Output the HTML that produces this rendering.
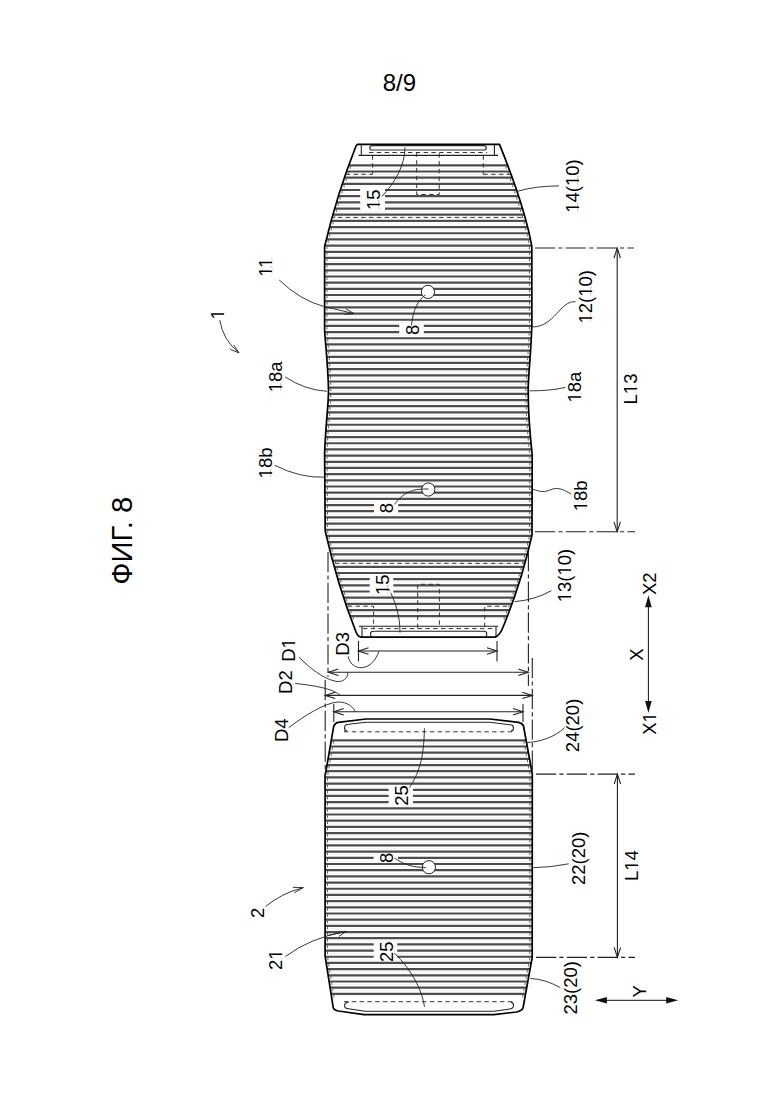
<!DOCTYPE html>
<html><head><meta charset="utf-8"><style>
html,body{margin:0;padding:0;background:#fff;}
svg{display:block;font-family:"Liberation Sans",sans-serif;}
</style></head><body>
<svg width="780" height="1103" viewBox="0 0 780 1103">
<defs>
<clipPath id="ct"><path d="M 357.5 144.4 L 499.5 144.4 Q 525 207.4 531.8 246.5 L 531.9 325 C 530.6 360 528.2 375 528.2 390 C 528.2 410 530 435 532.2 455 L 532 535 Q 521.6 581.7 503.5 626 Q 500 635.5 495 637.2 L 361.5 637.2 Q 358 637 356 632 Q 337.5 585 325.2 531 L 324.6 454 C 325.5 425 328.6 405 328.5 390 C 328 365 325.5 345 324.6 330 L 324.6 246.5 Q 337 194 356 146 Z"/></clipPath>
<clipPath id="cl"><path d="M 366 719 L 489.9 719 L 518.6 722.3 Q 522.5 723.2 523.5 726 L 532.3 774 L 532.2 957.4 L 523 1008 Q 522 1010.8 516.5 1012 L 494 1014.6 L 364 1014.6 L 338.3 1011 Q 334 1010 333.2 1007.4 L 325.1 956 L 325.1 776 L 333.7 726.4 Q 335 722.8 338.3 722.3 Z"/></clipPath>
</defs>
<g clip-path="url(#ct)" stroke-width="0.8" stroke="#eeeeee">
<line x1="320" y1="168.40" x2="540" y2="168.40"/>
<line x1="320" y1="174.58" x2="540" y2="174.58"/>
<line x1="320" y1="180.75" x2="540" y2="180.75"/>
<line x1="320" y1="186.93" x2="540" y2="186.93"/>
<line x1="320" y1="193.11" x2="540" y2="193.11"/>
<line x1="320" y1="199.28" x2="540" y2="199.28"/>
<line x1="320" y1="205.46" x2="540" y2="205.46"/>
<line x1="320" y1="211.64" x2="540" y2="211.64"/>
<line x1="320" y1="217.82" x2="540" y2="217.82"/>
<line x1="320" y1="223.99" x2="540" y2="223.99"/>
<line x1="320" y1="230.17" x2="540" y2="230.17"/>
<line x1="320" y1="236.35" x2="540" y2="236.35"/>
<line x1="320" y1="242.52" x2="540" y2="242.52"/>
<line x1="320" y1="248.70" x2="540" y2="248.70"/>
<line x1="320" y1="254.88" x2="540" y2="254.88"/>
<line x1="320" y1="261.06" x2="540" y2="261.06"/>
<line x1="320" y1="267.23" x2="540" y2="267.23"/>
<line x1="320" y1="273.41" x2="540" y2="273.41"/>
<line x1="320" y1="279.59" x2="540" y2="279.59"/>
<line x1="320" y1="285.76" x2="540" y2="285.76"/>
<line x1="320" y1="291.94" x2="540" y2="291.94"/>
<line x1="320" y1="298.12" x2="540" y2="298.12"/>
<line x1="320" y1="304.29" x2="540" y2="304.29"/>
<line x1="320" y1="310.47" x2="540" y2="310.47"/>
<line x1="320" y1="316.65" x2="540" y2="316.65"/>
<line x1="320" y1="322.83" x2="540" y2="322.83"/>
<line x1="320" y1="329.00" x2="540" y2="329.00"/>
<line x1="320" y1="335.18" x2="540" y2="335.18"/>
<line x1="320" y1="341.36" x2="540" y2="341.36"/>
<line x1="320" y1="347.53" x2="540" y2="347.53"/>
<line x1="320" y1="353.71" x2="540" y2="353.71"/>
<line x1="320" y1="359.89" x2="540" y2="359.89"/>
<line x1="320" y1="366.06" x2="540" y2="366.06"/>
<line x1="320" y1="372.24" x2="540" y2="372.24"/>
<line x1="320" y1="378.42" x2="540" y2="378.42"/>
<line x1="320" y1="384.60" x2="540" y2="384.60"/>
<line x1="320" y1="390.77" x2="540" y2="390.77"/>
<line x1="320" y1="396.95" x2="540" y2="396.95"/>
<line x1="320" y1="403.13" x2="540" y2="403.13"/>
<line x1="320" y1="409.30" x2="540" y2="409.30"/>
<line x1="320" y1="415.48" x2="540" y2="415.48"/>
<line x1="320" y1="421.66" x2="540" y2="421.66"/>
<line x1="320" y1="427.83" x2="540" y2="427.83"/>
<line x1="320" y1="434.01" x2="540" y2="434.01"/>
<line x1="320" y1="440.19" x2="540" y2="440.19"/>
<line x1="320" y1="446.37" x2="540" y2="446.37"/>
<line x1="320" y1="452.54" x2="540" y2="452.54"/>
<line x1="320" y1="458.72" x2="540" y2="458.72"/>
<line x1="320" y1="464.90" x2="540" y2="464.90"/>
<line x1="320" y1="471.07" x2="540" y2="471.07"/>
<line x1="320" y1="477.25" x2="540" y2="477.25"/>
<line x1="320" y1="483.43" x2="540" y2="483.43"/>
<line x1="320" y1="489.60" x2="540" y2="489.60"/>
<line x1="320" y1="495.78" x2="540" y2="495.78"/>
<line x1="320" y1="501.96" x2="540" y2="501.96"/>
<line x1="320" y1="508.13" x2="540" y2="508.13"/>
<line x1="320" y1="514.31" x2="540" y2="514.31"/>
<line x1="320" y1="520.49" x2="540" y2="520.49"/>
<line x1="320" y1="526.67" x2="540" y2="526.67"/>
<line x1="320" y1="532.84" x2="540" y2="532.84"/>
<line x1="320" y1="539.02" x2="540" y2="539.02"/>
<line x1="320" y1="545.20" x2="540" y2="545.20"/>
<line x1="320" y1="551.37" x2="540" y2="551.37"/>
<line x1="320" y1="557.55" x2="540" y2="557.55"/>
<line x1="320" y1="563.73" x2="540" y2="563.73"/>
<line x1="320" y1="569.91" x2="540" y2="569.91"/>
<line x1="320" y1="576.08" x2="540" y2="576.08"/>
<line x1="320" y1="582.26" x2="540" y2="582.26"/>
<line x1="320" y1="588.44" x2="540" y2="588.44"/>
<line x1="320" y1="594.61" x2="540" y2="594.61"/>
<line x1="320" y1="600.79" x2="540" y2="600.79"/>
<line x1="320" y1="606.97" x2="540" y2="606.97"/>
<line x1="320" y1="613.14" x2="540" y2="613.14"/>
<line x1="320" y1="619.32" x2="540" y2="619.32"/>
</g>
<g clip-path="url(#ct)" stroke-width="2.2" stroke="#4d4d4d">
<line x1="320" y1="165.30" x2="540" y2="165.30"/>
<line x1="320" y1="171.48" x2="540" y2="171.48"/>
<line x1="320" y1="177.65" x2="540" y2="177.65"/>
<line x1="320" y1="183.83" x2="540" y2="183.83"/>
<line x1="320" y1="190.01" x2="540" y2="190.01"/>
<line x1="320" y1="196.19" x2="540" y2="196.19"/>
<line x1="320" y1="202.36" x2="540" y2="202.36"/>
<line x1="320" y1="208.54" x2="540" y2="208.54"/>
<line x1="320" y1="214.72" x2="540" y2="214.72"/>
<line x1="320" y1="220.89" x2="540" y2="220.89"/>
<line x1="320" y1="227.07" x2="540" y2="227.07"/>
<line x1="320" y1="233.25" x2="540" y2="233.25"/>
<line x1="320" y1="239.42" x2="540" y2="239.42"/>
<line x1="320" y1="245.60" x2="540" y2="245.60"/>
<line x1="320" y1="251.78" x2="540" y2="251.78"/>
<line x1="320" y1="257.96" x2="540" y2="257.96"/>
<line x1="320" y1="264.13" x2="540" y2="264.13"/>
<line x1="320" y1="270.31" x2="540" y2="270.31"/>
<line x1="320" y1="276.49" x2="540" y2="276.49"/>
<line x1="320" y1="282.66" x2="540" y2="282.66"/>
<line x1="320" y1="288.84" x2="540" y2="288.84"/>
<line x1="320" y1="295.02" x2="540" y2="295.02"/>
<line x1="320" y1="301.19" x2="540" y2="301.19"/>
<line x1="320" y1="307.37" x2="540" y2="307.37"/>
<line x1="320" y1="313.55" x2="540" y2="313.55"/>
<line x1="320" y1="319.73" x2="540" y2="319.73"/>
<line x1="320" y1="325.90" x2="540" y2="325.90"/>
<line x1="320" y1="332.08" x2="540" y2="332.08"/>
<line x1="320" y1="338.26" x2="540" y2="338.26"/>
<line x1="320" y1="344.43" x2="540" y2="344.43"/>
<line x1="320" y1="350.61" x2="540" y2="350.61"/>
<line x1="320" y1="356.79" x2="540" y2="356.79"/>
<line x1="320" y1="362.96" x2="540" y2="362.96"/>
<line x1="320" y1="369.14" x2="540" y2="369.14"/>
<line x1="320" y1="375.32" x2="540" y2="375.32"/>
<line x1="320" y1="381.50" x2="540" y2="381.50"/>
<line x1="320" y1="387.67" x2="540" y2="387.67"/>
<line x1="320" y1="393.85" x2="540" y2="393.85"/>
<line x1="320" y1="400.03" x2="540" y2="400.03"/>
<line x1="320" y1="406.20" x2="540" y2="406.20"/>
<line x1="320" y1="412.38" x2="540" y2="412.38"/>
<line x1="320" y1="418.56" x2="540" y2="418.56"/>
<line x1="320" y1="424.73" x2="540" y2="424.73"/>
<line x1="320" y1="430.91" x2="540" y2="430.91"/>
<line x1="320" y1="437.09" x2="540" y2="437.09"/>
<line x1="320" y1="443.26" x2="540" y2="443.26"/>
<line x1="320" y1="449.44" x2="540" y2="449.44"/>
<line x1="320" y1="455.62" x2="540" y2="455.62"/>
<line x1="320" y1="461.80" x2="540" y2="461.80"/>
<line x1="320" y1="467.97" x2="540" y2="467.97"/>
<line x1="320" y1="474.15" x2="540" y2="474.15"/>
<line x1="320" y1="480.33" x2="540" y2="480.33"/>
<line x1="320" y1="486.50" x2="540" y2="486.50"/>
<line x1="320" y1="492.68" x2="540" y2="492.68"/>
<line x1="320" y1="498.86" x2="540" y2="498.86"/>
<line x1="320" y1="505.03" x2="540" y2="505.03"/>
<line x1="320" y1="511.21" x2="540" y2="511.21"/>
<line x1="320" y1="517.39" x2="540" y2="517.39"/>
<line x1="320" y1="523.57" x2="540" y2="523.57"/>
<line x1="320" y1="529.74" x2="540" y2="529.74"/>
<line x1="320" y1="535.92" x2="540" y2="535.92"/>
<line x1="320" y1="542.10" x2="540" y2="542.10"/>
<line x1="320" y1="548.27" x2="540" y2="548.27"/>
<line x1="320" y1="554.45" x2="540" y2="554.45"/>
<line x1="320" y1="560.63" x2="540" y2="560.63"/>
<line x1="320" y1="566.81" x2="540" y2="566.81"/>
<line x1="320" y1="572.98" x2="540" y2="572.98"/>
<line x1="320" y1="579.16" x2="540" y2="579.16"/>
<line x1="320" y1="585.34" x2="540" y2="585.34"/>
<line x1="320" y1="591.51" x2="540" y2="591.51"/>
<line x1="320" y1="597.69" x2="540" y2="597.69"/>
<line x1="320" y1="603.87" x2="540" y2="603.87"/>
<line x1="320" y1="610.04" x2="540" y2="610.04"/>
<line x1="320" y1="616.22" x2="540" y2="616.22"/>
</g>
<g clip-path="url(#cl)" stroke-width="0.8" stroke="#eeeeee">
<line x1="320" y1="743.40" x2="540" y2="743.40"/>
<line x1="320" y1="749.58" x2="540" y2="749.58"/>
<line x1="320" y1="755.77" x2="540" y2="755.77"/>
<line x1="320" y1="761.95" x2="540" y2="761.95"/>
<line x1="320" y1="768.14" x2="540" y2="768.14"/>
<line x1="320" y1="774.32" x2="540" y2="774.32"/>
<line x1="320" y1="780.51" x2="540" y2="780.51"/>
<line x1="320" y1="786.69" x2="540" y2="786.69"/>
<line x1="320" y1="792.88" x2="540" y2="792.88"/>
<line x1="320" y1="799.06" x2="540" y2="799.06"/>
<line x1="320" y1="805.25" x2="540" y2="805.25"/>
<line x1="320" y1="811.43" x2="540" y2="811.43"/>
<line x1="320" y1="817.62" x2="540" y2="817.62"/>
<line x1="320" y1="823.80" x2="540" y2="823.80"/>
<line x1="320" y1="829.99" x2="540" y2="829.99"/>
<line x1="320" y1="836.17" x2="540" y2="836.17"/>
<line x1="320" y1="842.36" x2="540" y2="842.36"/>
<line x1="320" y1="848.54" x2="540" y2="848.54"/>
<line x1="320" y1="854.73" x2="540" y2="854.73"/>
<line x1="320" y1="860.91" x2="540" y2="860.91"/>
<line x1="320" y1="867.10" x2="540" y2="867.10"/>
<line x1="320" y1="873.28" x2="540" y2="873.28"/>
<line x1="320" y1="879.47" x2="540" y2="879.47"/>
<line x1="320" y1="885.65" x2="540" y2="885.65"/>
<line x1="320" y1="891.84" x2="540" y2="891.84"/>
<line x1="320" y1="898.02" x2="540" y2="898.02"/>
<line x1="320" y1="904.21" x2="540" y2="904.21"/>
<line x1="320" y1="910.39" x2="540" y2="910.39"/>
<line x1="320" y1="916.58" x2="540" y2="916.58"/>
<line x1="320" y1="922.76" x2="540" y2="922.76"/>
<line x1="320" y1="928.95" x2="540" y2="928.95"/>
<line x1="320" y1="935.13" x2="540" y2="935.13"/>
<line x1="320" y1="941.32" x2="540" y2="941.32"/>
<line x1="320" y1="947.50" x2="540" y2="947.50"/>
<line x1="320" y1="953.69" x2="540" y2="953.69"/>
<line x1="320" y1="959.88" x2="540" y2="959.88"/>
<line x1="320" y1="966.06" x2="540" y2="966.06"/>
<line x1="320" y1="972.25" x2="540" y2="972.25"/>
<line x1="320" y1="978.43" x2="540" y2="978.43"/>
<line x1="320" y1="984.61" x2="540" y2="984.61"/>
<line x1="320" y1="990.80" x2="540" y2="990.80"/>
<line x1="320" y1="996.99" x2="540" y2="996.99"/>
</g>
<g clip-path="url(#cl)" stroke-width="2.2" stroke="#4d4d4d">
<line x1="320" y1="740.30" x2="540" y2="740.30"/>
<line x1="320" y1="746.48" x2="540" y2="746.48"/>
<line x1="320" y1="752.67" x2="540" y2="752.67"/>
<line x1="320" y1="758.85" x2="540" y2="758.85"/>
<line x1="320" y1="765.04" x2="540" y2="765.04"/>
<line x1="320" y1="771.22" x2="540" y2="771.22"/>
<line x1="320" y1="777.41" x2="540" y2="777.41"/>
<line x1="320" y1="783.59" x2="540" y2="783.59"/>
<line x1="320" y1="789.78" x2="540" y2="789.78"/>
<line x1="320" y1="795.96" x2="540" y2="795.96"/>
<line x1="320" y1="802.15" x2="540" y2="802.15"/>
<line x1="320" y1="808.33" x2="540" y2="808.33"/>
<line x1="320" y1="814.52" x2="540" y2="814.52"/>
<line x1="320" y1="820.70" x2="540" y2="820.70"/>
<line x1="320" y1="826.89" x2="540" y2="826.89"/>
<line x1="320" y1="833.07" x2="540" y2="833.07"/>
<line x1="320" y1="839.26" x2="540" y2="839.26"/>
<line x1="320" y1="845.44" x2="540" y2="845.44"/>
<line x1="320" y1="851.63" x2="540" y2="851.63"/>
<line x1="320" y1="857.81" x2="540" y2="857.81"/>
<line x1="320" y1="864.00" x2="540" y2="864.00"/>
<line x1="320" y1="870.18" x2="540" y2="870.18"/>
<line x1="320" y1="876.37" x2="540" y2="876.37"/>
<line x1="320" y1="882.55" x2="540" y2="882.55"/>
<line x1="320" y1="888.74" x2="540" y2="888.74"/>
<line x1="320" y1="894.92" x2="540" y2="894.92"/>
<line x1="320" y1="901.11" x2="540" y2="901.11"/>
<line x1="320" y1="907.29" x2="540" y2="907.29"/>
<line x1="320" y1="913.48" x2="540" y2="913.48"/>
<line x1="320" y1="919.66" x2="540" y2="919.66"/>
<line x1="320" y1="925.85" x2="540" y2="925.85"/>
<line x1="320" y1="932.03" x2="540" y2="932.03"/>
<line x1="320" y1="938.22" x2="540" y2="938.22"/>
<line x1="320" y1="944.40" x2="540" y2="944.40"/>
<line x1="320" y1="950.59" x2="540" y2="950.59"/>
<line x1="320" y1="956.77" x2="540" y2="956.77"/>
<line x1="320" y1="962.96" x2="540" y2="962.96"/>
<line x1="320" y1="969.14" x2="540" y2="969.14"/>
<line x1="320" y1="975.33" x2="540" y2="975.33"/>
<line x1="320" y1="981.51" x2="540" y2="981.51"/>
<line x1="320" y1="987.70" x2="540" y2="987.70"/>
<line x1="320" y1="993.88" x2="540" y2="993.88"/>
</g>
<g clip-path="url(#ct)" fill="#fff"><rect x="320" y="140" width="220" height="21.5"/><rect x="320" y="619" width="220" height="20"/></g>
<g clip-path="url(#cl)" fill="#fff"><rect x="320" y="715" width="220" height="21.5"/><rect x="320" y="997" width="220" height="20"/></g>
<g stroke="#333" stroke-width="1" fill="none" stroke-dasharray="4.4 3.4" clip-path="url(#ct)">
<line x1="369" y1="152.5" x2="487" y2="152.5"/>
<line x1="338" y1="174.3" x2="372.6" y2="174.3"/><line x1="483.3" y1="174.3" x2="522" y2="174.3"/>
<line x1="372.6" y1="155.4" x2="372.6" y2="174.3"/><line x1="483.3" y1="155.4" x2="483.3" y2="174.3"/>
<polyline points="416.7,152.4 416.7,194.5 439.2,194.5 439.2,152.4"/>
<line x1="330" y1="217.4" x2="528" y2="217.4"/>
<line x1="335" y1="563.3" x2="524" y2="563.3"/>
<polyline points="340,606.2 373.6,606.2 373.6,628"/><polyline points="515,606.2 484.7,606.2 484.7,628"/>
<polyline points="417.7,628 417.7,584.3 439.4,584.3 439.4,628"/>
<line x1="363" y1="628.6" x2="495" y2="628.6"/>
</g>
<g stroke="#333" stroke-width="1" fill="none" stroke-dasharray="4.4 3.4" clip-path="url(#cl)">
<line x1="344" y1="731.8" x2="514" y2="731.8"/>
<line x1="344" y1="1001.7" x2="514" y2="1001.7"/>
</g>
<g stroke="#222" stroke-width="1.1" fill="none">
<polyline points="358.5,155.4 498,155.4"/><line x1="361.3" y1="144" x2="361.3" y2="155.4"/><line x1="494.4" y1="144" x2="494.4" y2="155.4"/>
<rect x="369.8" y="145.6" width="116.4" height="4.4" rx="2.2" stroke="#333" stroke-width="1.2"/>
<polyline points="359,626.2 498,626.2"/><line x1="362" y1="626.2" x2="362" y2="637"/><line x1="496" y1="626.2" x2="496" y2="637"/>
<path d="M 371.5 636.5 Q 370.5 636 370.5 634 Q 370.5 631.3 373.5 631.3 L 484 631.3 Q 486.8 631.3 486.8 634 Q 486.8 636 486 636.5"/>
<path d="M 347 731 Q 344.5 731 344.5 728 Q 344.5 724.3 348.6 724.3 L 366 722.3 L 489.9 722.3 L 510.4 724.8 Q 513.5 725 513.5 728 Q 513.5 731 511 731"/>
<path d="M 348.5 1002.3 Q 344.6 1002.5 344.6 1005.5 Q 344.6 1008.7 348.6 1008.7 L 365 1011.3 L 494 1011.3 L 510 1009 Q 513.5 1008.5 513.5 1005.5 Q 513.5 1002.5 511 1002.3"/>
</g>
<path d="M 350.37 166.10 V 168.70 M 506.05 166.10 V 168.70 M 348.19 172.28 V 174.88 M 508.34 172.28 V 174.88 M 346.08 178.45 V 181.05 M 510.58 178.45 V 181.05 M 344.02 184.63 V 187.23 M 512.75 184.63 V 187.23 M 342.03 190.81 V 193.41 M 514.85 190.81 V 193.41 M 340.10 196.99 V 199.59 M 516.89 196.99 V 199.59 M 338.23 203.16 V 205.76 M 518.84 203.16 V 205.76 M 336.42 209.34 V 211.94 M 520.72 209.34 V 211.94 M 334.67 215.52 V 218.12 M 522.49 215.52 V 218.12 M 332.97 221.69 V 224.29 M 524.17 221.69 V 224.29 M 331.33 227.87 V 230.47 M 525.73 227.87 V 230.47 M 329.75 234.05 V 236.65 M 527.17 234.05 V 236.65 M 328.22 240.22 V 242.82 M 528.46 240.22 V 242.82 M 327.00 246.40 V 249.00 M 529.40 246.40 V 249.00 M 327.00 252.58 V 255.18 M 529.41 252.58 V 255.18 M 327.00 258.76 V 261.36 M 529.42 258.76 V 261.36 M 327.00 264.93 V 267.53 M 529.42 264.93 V 267.53 M 327.00 271.11 V 273.71 M 529.43 271.11 V 273.71 M 327.00 277.29 V 279.89 M 529.44 277.29 V 279.89 M 327.00 283.46 V 286.06 M 529.45 283.46 V 286.06 M 327.00 289.64 V 292.24 M 529.46 289.64 V 292.24 M 327.00 295.82 V 298.42 M 529.46 295.82 V 298.42 M 327.00 301.99 V 304.59 M 529.47 301.99 V 304.59 M 327.00 308.17 V 310.77 M 529.48 308.17 V 310.77 M 327.00 314.35 V 316.95 M 529.49 314.35 V 316.95 M 327.00 320.53 V 323.12 M 529.50 320.53 V 323.12 M 327.00 326.70 V 329.30 M 529.39 326.70 V 329.30 M 327.27 332.88 V 335.48 M 529.12 332.88 V 335.48 M 327.76 339.06 V 341.66 M 528.81 339.06 V 341.66 M 328.28 345.23 V 347.83 M 528.46 345.23 V 347.83 M 328.80 351.41 V 354.01 M 528.06 351.41 V 354.01 M 329.30 357.59 V 360.19 M 527.63 357.59 V 360.19 M 329.75 363.76 V 366.36 M 527.17 363.76 V 366.36 M 330.14 369.94 V 372.54 M 526.70 369.94 V 372.54 M 330.47 376.12 V 378.72 M 526.27 376.12 V 378.72 M 330.72 382.30 V 384.89 M 525.94 382.30 V 384.89 M 330.89 388.47 V 391.07 M 525.80 388.47 V 391.07 M 330.80 394.65 V 397.25 M 525.85 394.65 V 397.25 M 330.47 400.83 V 403.43 M 525.99 400.83 V 403.43 M 330.03 407.00 V 409.60 M 526.21 407.00 V 409.60 M 329.52 413.18 V 415.78 M 526.50 413.18 V 415.78 M 329.01 419.36 V 421.96 M 526.85 419.36 V 421.96 M 328.52 425.53 V 428.13 M 527.26 425.53 V 428.13 M 328.07 431.71 V 434.31 M 527.72 431.71 V 434.31 M 327.67 437.89 V 440.49 M 528.24 437.89 V 440.49 M 327.35 444.06 V 446.66 M 528.80 444.06 V 446.66 M 327.09 450.24 V 452.84 M 529.42 450.24 V 452.84 M 327.03 456.42 V 459.02 M 529.79 456.42 V 459.02 M 327.08 462.60 V 465.20 M 529.78 462.60 V 465.20 M 327.12 468.77 V 471.37 M 529.76 468.77 V 471.37 M 327.17 474.95 V 477.55 M 529.75 474.95 V 477.55 M 327.22 481.13 V 483.73 M 529.73 481.13 V 483.73 M 327.27 487.30 V 489.90 M 529.72 487.30 V 489.90 M 327.32 493.48 V 496.08 M 529.70 493.48 V 496.08 M 327.37 499.66 V 502.26 M 529.69 499.66 V 502.26 M 327.41 505.83 V 508.43 M 529.67 505.83 V 508.43 M 327.46 512.01 V 514.61 M 529.65 512.01 V 514.61 M 327.51 518.19 V 520.79 M 529.64 518.19 V 520.79 M 327.56 524.37 V 526.97 M 529.62 524.37 V 526.97 M 327.77 530.54 V 533.14 M 529.61 530.54 V 533.14 M 329.21 536.72 V 539.32 M 528.94 536.72 V 539.32 M 330.70 542.90 V 545.50 M 527.50 542.90 V 545.50 M 332.24 549.07 V 551.67 M 525.98 549.07 V 551.67 M 333.84 555.25 V 557.85 M 524.38 555.25 V 557.85 M 335.50 561.43 V 564.03 M 522.72 561.43 V 564.03 M 337.21 567.61 V 570.21 M 520.97 567.61 V 570.21 M 338.98 573.78 V 576.38 M 519.15 573.78 V 576.38 M 340.82 579.96 V 582.56 M 517.26 579.96 V 582.56 M 342.71 586.14 V 588.74 M 515.28 586.14 V 588.74 M 344.67 592.31 V 594.91 M 513.23 592.31 V 594.91 M 346.69 598.49 V 601.09 M 511.10 598.49 V 601.09 M 348.78 604.67 V 607.27 M 508.88 604.67 V 607.27 M 350.94 610.84 V 613.44 M 506.59 610.84 V 613.44 M 353.17 617.02 V 619.62 M 504.21 617.02 V 619.62 M 333.34 741.10 V 743.70 M 524.09 741.10 V 743.70 M 332.27 747.28 V 749.88 M 525.22 747.28 V 749.88 M 331.20 753.47 V 756.07 M 526.36 753.47 V 756.07 M 330.13 759.65 V 762.25 M 527.49 759.65 V 762.25 M 329.05 765.84 V 768.44 M 528.62 765.84 V 768.44 M 327.98 772.02 V 774.62 M 529.76 772.02 V 774.62 M 327.50 778.21 V 780.81 M 529.90 778.21 V 780.81 M 327.50 784.39 V 786.99 M 529.89 784.39 V 786.99 M 327.50 790.58 V 793.18 M 529.89 790.58 V 793.18 M 327.50 796.76 V 799.36 M 529.89 796.76 V 799.36 M 327.50 802.95 V 805.55 M 529.88 802.95 V 805.55 M 327.50 809.13 V 811.73 M 529.88 809.13 V 811.73 M 327.50 815.32 V 817.92 M 529.88 815.32 V 817.92 M 327.50 821.50 V 824.10 M 529.87 821.50 V 824.10 M 327.50 827.69 V 830.29 M 529.87 827.69 V 830.29 M 327.50 833.87 V 836.47 M 529.87 833.87 V 836.47 M 327.50 840.06 V 842.66 M 529.86 840.06 V 842.66 M 327.50 846.24 V 848.84 M 529.86 846.24 V 848.84 M 327.50 852.43 V 855.03 M 529.86 852.43 V 855.03 M 327.50 858.61 V 861.21 M 529.85 858.61 V 861.21 M 327.50 864.80 V 867.40 M 529.85 864.80 V 867.40 M 327.50 870.98 V 873.58 M 529.85 870.98 V 873.58 M 327.50 877.17 V 879.77 M 529.84 877.17 V 879.77 M 327.50 883.35 V 885.95 M 529.84 883.35 V 885.95 M 327.50 889.54 V 892.14 M 529.84 889.54 V 892.14 M 327.50 895.72 V 898.32 M 529.83 895.72 V 898.32 M 327.50 901.91 V 904.51 M 529.83 901.91 V 904.51 M 327.50 908.09 V 910.69 M 529.83 908.09 V 910.69 M 327.50 914.28 V 916.88 M 529.82 914.28 V 916.88 M 327.50 920.46 V 923.06 M 529.82 920.46 V 923.06 M 327.50 926.65 V 929.25 M 529.82 926.65 V 929.25 M 327.50 932.83 V 935.43 M 529.81 932.83 V 935.43 M 327.50 939.02 V 941.62 M 529.81 939.02 V 941.62 M 327.50 945.20 V 947.80 M 529.81 945.20 V 947.80 M 327.50 951.39 V 953.99 M 529.80 951.39 V 953.99 M 327.94 957.57 V 960.17 M 529.55 957.57 V 960.17 M 328.91 963.76 V 966.36 M 528.43 963.76 V 966.36 M 329.89 969.94 V 972.54 M 527.30 969.94 V 972.54 M 330.86 976.13 V 978.73 M 526.18 976.13 V 978.73 M 331.84 982.31 V 984.91 M 525.05 982.31 V 984.91 M 332.81 988.50 V 991.10 M 523.93 988.50 V 991.10 M 333.79 994.68 V 997.28 M 522.80 994.68 V 997.28" stroke="#555" stroke-width="0.9" fill="none"/>
<path d="M 357.5 144.4 L 499.5 144.4 Q 525 207.4 531.8 246.5 L 531.9 325 C 530.6 360 528.2 375 528.2 390 C 528.2 410 530 435 532.2 455 L 532 535 Q 521.6 581.7 503.5 626 Q 500 635.5 495 637.2 L 361.5 637.2 Q 358 637 356 632 Q 337.5 585 325.2 531 L 324.6 454 C 325.5 425 328.6 405 328.5 390 C 328 365 325.5 345 324.6 330 L 324.6 246.5 Q 337 194 356 146 Z" fill="none" stroke="#000" stroke-width="1.7" stroke-linejoin="round"/>
<path d="M 366 719 L 489.9 719 L 518.6 722.3 Q 522.5 723.2 523.5 726 L 532.3 774 L 532.2 957.4 L 523 1008 Q 522 1010.8 516.5 1012 L 494 1014.6 L 364 1014.6 L 338.3 1011 Q 334 1010 333.2 1007.4 L 325.1 956 L 325.1 776 L 333.7 726.4 Q 335 722.8 338.3 722.3 Z" fill="none" stroke="#000" stroke-width="1.7" stroke-linejoin="round"/>
<rect x="360.2" y="186.5" width="24.8" height="23.5" fill="#fff"/>
<rect x="399.2" y="323" width="24.6" height="14.0" fill="#fff"/>
<rect x="374" y="501" width="24.2" height="13.5" fill="#fff"/>
<rect x="369.7" y="575" width="23.6" height="19.0" fill="#fff"/>
<rect x="388.6" y="786.5" width="24.4" height="19.0" fill="#fff"/>
<rect x="373.6" y="854.5" width="24.4" height="7.0" fill="#fff"/>
<rect x="373.7" y="942" width="23.5" height="19.0" fill="#fff"/>
<circle cx="427.9" cy="291.9" r="6.6" fill="#fff" stroke="#222" stroke-width="1"/>
<circle cx="428.3" cy="489.5" r="6.6" fill="#fff" stroke="#222" stroke-width="1"/>
<circle cx="428.9" cy="867.2" r="6.6" fill="#fff" stroke="#222" stroke-width="1"/>
<g stroke="#222" stroke-width="1.1" fill="none" stroke-dasharray="20.2 3.2 4.2 3.2">
<line x1="535" y1="248" x2="634" y2="248"/><line x1="535" y1="531.8" x2="635" y2="531.8"/>
<line x1="536" y1="774.1" x2="635" y2="774.1"/><line x1="536" y1="957.4" x2="635" y2="957.4"/>
<line x1="328" y1="552" x2="328" y2="677"/><line x1="528.4" y1="551" x2="528.4" y2="686"/>
<line x1="325.2" y1="680" x2="325.2" y2="790"/><line x1="532.3" y1="658" x2="532.3" y2="774"/>
</g>
<g stroke="#222" stroke-width="1.1" fill="none">
<line x1="617.2" y1="248" x2="617.2" y2="531.8"/><polyline points="620.40,258.00 617.20,248.00 614.00,258.00"/><polyline points="614.00,521.80 617.20,531.80 620.40,521.80"/>
<line x1="617.4" y1="774.1" x2="617.4" y2="957.4"/><polyline points="620.60,784.10 617.40,774.10 614.20,784.10"/><polyline points="614.20,947.40 617.40,957.40 620.60,947.40"/>
<line x1="358.5" y1="651" x2="497" y2="651"/><polyline points="368.50,647.80 358.50,651.00 368.50,654.20"/><polyline points="487.00,654.20 497.00,651.00 487.00,647.80"/>
<line x1="358.5" y1="641" x2="358.5" y2="661.5"/><line x1="497" y1="641" x2="497" y2="661.5"/>
<line x1="328.3" y1="672.3" x2="528.3" y2="672.3"/><polyline points="338.30,669.10 328.30,672.30 338.30,675.50"/><polyline points="518.30,675.50 528.30,672.30 518.30,669.10"/>
<line x1="325.2" y1="695.4" x2="532.3" y2="695.4"/><polyline points="335.20,692.20 325.20,695.40 335.20,698.60"/><polyline points="522.30,698.60 532.30,695.40 522.30,692.20"/>
<line x1="333.8" y1="711.8" x2="523" y2="711.8"/><polyline points="343.80,708.60 333.80,711.80 343.80,715.00"/><polyline points="513.00,715.00 523.00,711.80 513.00,708.60"/>
<line x1="333.8" y1="704" x2="333.8" y2="722"/><line x1="523" y1="704" x2="523" y2="722"/>
</g>
<g stroke="#111" stroke-width="1" fill="none">
<line x1="648.4" y1="600" x2="648.4" y2="708"/><polygon points="651.70,607.30 648.40,595.30 645.10,607.30" fill="#111" stroke="none"/><polygon points="645.10,701.00 648.40,713.00 651.70,701.00" fill="#111" stroke="none"/>
<line x1="600" y1="1000.3" x2="673" y2="1000.3"/><polygon points="606.90,997.00 594.90,1000.30 606.90,1003.60" fill="#111" stroke="none"/><polygon points="666.20,1003.60 678.20,1000.30 666.20,997.00" fill="#111" stroke="none"/>
</g>
<g stroke="#222" stroke-width="0.9" fill="none">
<path d="M 559 185.9 Q 535 186 516.7 191.5"/>
<path d="M 381.8 196.5 C 395 183 405 165 405 147.3"/>
<path d="M 279.2 280 Q 300 300 323.8 306.5 L 354 313.6"/>
<path d="M 219.8 320.2 Q 223 340 239 352.9"/>
<path d="M 575.6 301.8 C 560 300 555 327 532 327"/>
<path d="M 285.2 377 Q 305 390 327 391.3"/>
<path d="M 565.4 387.4 Q 550 391 529.5 390.8"/>
<path d="M 274.7 465.3 Q 300 478 324 477.2"/>
<path d="M 532.6 489.3 C 537 490.5 540 491.8 544.7 491.5 C 549 491 552 488.4 556.4 488.4 C 562 488.4 567 491.5 571.2 494.2"/>
<path d="M 411.5 325.4 C 413 310 418 300 425.4 295"/>
<path d="M 394.6 504.4 C 405 490 415 489 428.5 489"/>
<path d="M 387.8 587.5 C 395 600 400 615 400 632.6"/>
<path d="M 551.4 590.6 Q 535 600 514.8 601.6"/>
<path d="M 348.2 656.4 C 350 665 356 668 362 667.7 C 370 667 376 660 379 651.3"/>
<path d="M 298.8 657.1 C 310 668 322 678 335 681.2 C 343 683 348 678 347.9 672.5"/>
<path d="M 295.3 683.5 C 320 686 335 690 340 695.4"/>
<path d="M 288.7 727.8 C 305 715 325 703 338 702 C 348 702 353 707 355.4 711.8"/>
<path d="M 564.6 727.7 C 555 737 540 742 527 742.5"/>
<path d="M 409.4 787.5 C 418 775 424 760 424.4 728.2"/>
<path d="M 394.6 858 C 403 864 412 867.5 425.8 867.5"/>
<path d="M 568.7 863.8 Q 550 867.5 533.3 867.7"/>
<path d="M 265.6 906.5 Q 282 893 303.3 887.6"/>
<path d="M 285.4 956.5 Q 310 938 346.2 931.3"/>
<path d="M 394.3 953 C 412 970 422 990 424.5 1006.7"/>
<path d="M 560.3 987.7 Q 545 979 530.3 978.5"/>
<polyline points="344.60,314.27 354.00,313.60 345.88,308.81"/>
<polyline points="230.24,349.43 239.00,352.90 233.75,345.07"/>
<polyline points="294.29,892.77 303.30,887.60 292.92,887.34"/>
<polyline points="328.2,935.4 346.2,931.3 339,936.4"/>
</g>
<text transform="translate(382.64,91.34)" font-size="24">8/9</text>
<g transform="translate(131.57,584.64) rotate(-90)"><text font-size="29.2">ФИГ. 8</text></g>
<g transform="translate(380.39,209.92) rotate(-90)"><text font-size="18.5">15</text><rect x="1.26" y="-1.88" width="3.36" height="3.08" fill="#fff"/><rect x="6.31" y="-1.88" width="3.26" height="3.08" fill="#fff"/></g>
<g transform="translate(579.46,212.75) rotate(-90)"><text font-size="18.5">14(10)</text><rect x="1.26" y="-1.88" width="3.36" height="3.08" fill="#fff"/><rect x="6.31" y="-1.88" width="3.26" height="3.08" fill="#fff"/><rect x="28.00" y="-1.88" width="3.36" height="3.08" fill="#fff"/><rect x="33.05" y="-1.88" width="3.26" height="3.08" fill="#fff"/></g>
<g transform="translate(271.63,276.81) rotate(-90)"><text font-size="18.5">11</text><rect x="1.26" y="-1.88" width="3.36" height="3.08" fill="#fff"/><rect x="6.31" y="-1.88" width="3.26" height="3.08" fill="#fff"/><rect x="10.18" y="-1.88" width="3.36" height="3.08" fill="#fff"/><rect x="15.23" y="-1.88" width="3.26" height="3.08" fill="#fff"/></g>
<g transform="translate(223.93,319.47) rotate(-90)"><text font-size="18.5">1</text><rect x="1.26" y="-1.88" width="3.36" height="3.08" fill="#fff"/><rect x="6.31" y="-1.88" width="3.26" height="3.08" fill="#fff"/></g>
<g transform="translate(418.88,334.89) rotate(-90)"><text font-size="18.5">8</text></g>
<g transform="translate(592.31,323.50) rotate(-90)"><text font-size="18.5">12(10)</text><rect x="1.26" y="-1.88" width="3.36" height="3.08" fill="#fff"/><rect x="6.31" y="-1.88" width="3.26" height="3.08" fill="#fff"/><rect x="28.00" y="-1.88" width="3.36" height="3.08" fill="#fff"/><rect x="33.05" y="-1.88" width="3.26" height="3.08" fill="#fff"/></g>
<g transform="translate(282.38,392.32) rotate(-90)"><text font-size="18.5">18a</text><rect x="1.26" y="-1.88" width="3.36" height="3.08" fill="#fff"/><rect x="6.31" y="-1.88" width="3.26" height="3.08" fill="#fff"/></g>
<g transform="translate(580.63,402.52) rotate(-90)"><text font-size="18.5">18a</text><rect x="1.26" y="-1.88" width="3.36" height="3.08" fill="#fff"/><rect x="6.31" y="-1.88" width="3.26" height="3.08" fill="#fff"/></g>
<g transform="translate(637.03,404.43) rotate(-90)"><text font-size="18.5">L13</text><rect x="11.55" y="-1.88" width="3.36" height="3.08" fill="#fff"/><rect x="16.60" y="-1.88" width="3.26" height="3.08" fill="#fff"/></g>
<g transform="translate(272.46,478.40) rotate(-90)"><text font-size="18.5">18b</text><rect x="1.26" y="-1.88" width="3.36" height="3.08" fill="#fff"/><rect x="6.31" y="-1.88" width="3.26" height="3.08" fill="#fff"/></g>
<g transform="translate(587.06,511.30) rotate(-90)"><text font-size="18.5">18b</text><rect x="1.26" y="-1.88" width="3.36" height="3.08" fill="#fff"/><rect x="6.31" y="-1.88" width="3.26" height="3.08" fill="#fff"/></g>
<g transform="translate(393.48,513.14) rotate(-90)"><text font-size="18.5">8</text></g>
<g transform="translate(389.34,595.12) rotate(-90)"><text font-size="18.5">15</text><rect x="1.26" y="-1.88" width="3.36" height="3.08" fill="#fff"/><rect x="6.31" y="-1.88" width="3.26" height="3.08" fill="#fff"/></g>
<g transform="translate(570.71,602.25) rotate(-90)"><text font-size="18.5">13(10)</text><rect x="1.26" y="-1.88" width="3.36" height="3.08" fill="#fff"/><rect x="6.31" y="-1.88" width="3.26" height="3.08" fill="#fff"/><rect x="28.00" y="-1.88" width="3.36" height="3.08" fill="#fff"/><rect x="33.05" y="-1.88" width="3.26" height="3.08" fill="#fff"/></g>
<g transform="translate(655.68,595.00) rotate(-90)"><text font-size="18.5">X2</text></g>
<g transform="translate(348.98,655.72) rotate(-90)"><text font-size="18.5">D3</text></g>
<g transform="translate(295.03,661.79) rotate(-90)"><text font-size="18.5">D1</text><rect x="14.62" y="-1.88" width="3.36" height="3.08" fill="#fff"/><rect x="19.67" y="-1.88" width="3.26" height="3.08" fill="#fff"/></g>
<g transform="translate(292.12,693.97) rotate(-90)"><text font-size="18.5">D2</text></g>
<g transform="translate(287.63,742.05) rotate(-90)"><text font-size="18.5">D4</text></g>
<g transform="translate(643.18,660.85) rotate(-90)"><text font-size="18.5">X</text></g>
<g transform="translate(655.58,734.82) rotate(-90)"><text font-size="18.5">X1</text><rect x="13.60" y="-1.88" width="3.36" height="3.08" fill="#fff"/><rect x="18.65" y="-1.88" width="3.26" height="3.08" fill="#fff"/></g>
<g transform="translate(579.06,752.19) rotate(-90)"><text font-size="18.5">24(20)</text></g>
<g transform="translate(408.33,805.81) rotate(-90)"><text font-size="18.5">25</text></g>
<g transform="translate(392.83,863.09) rotate(-90)"><text font-size="18.5">8</text></g>
<g transform="translate(584.96,884.99) rotate(-90)"><text font-size="18.5">22(20)</text></g>
<g transform="translate(637.83,881.06) rotate(-90)"><text font-size="18.5">L14</text><rect x="11.55" y="-1.88" width="3.36" height="3.08" fill="#fff"/><rect x="16.60" y="-1.88" width="3.26" height="3.08" fill="#fff"/></g>
<g transform="translate(263.73,917.89) rotate(-90)"><text font-size="18.5">2</text></g>
<g transform="translate(281.78,969.94) rotate(-90)"><text font-size="18.5">21</text><rect x="11.55" y="-1.88" width="3.36" height="3.08" fill="#fff"/><rect x="16.60" y="-1.88" width="3.26" height="3.08" fill="#fff"/></g>
<g transform="translate(392.83,962.06) rotate(-90)"><text font-size="18.5">25</text></g>
<g transform="translate(577.01,1014.54) rotate(-90)"><text font-size="18.5">23(20)</text></g>
<g transform="translate(646.13,997.60) rotate(-90)"><text font-size="18.5">Y</text></g>
</svg></body></html>
